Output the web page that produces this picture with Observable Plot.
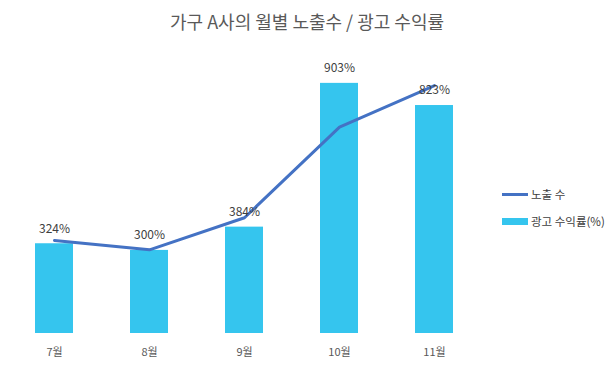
<!DOCTYPE html>
<html>
<head>
<meta charset="utf-8">
<script src="https://cdn.jsdelivr.net/npm/d3@7"></script>
<script src="https://cdn.jsdelivr.net/npm/@observablehq/plot@0.6"></script>
<style>
  html, body { margin: 0; padding: 0; background: #fff; }
  #wrap { position: relative; width: 614px; height: 369px; font-family: "Noto Sans CJK KR", "Noto Sans", sans-serif; }
  #title { position: absolute; left: 0; width: 614px; top: 8px; text-align: center; font-size: 18px; color: #595959; line-height: 26px; }
  #chart { position: absolute; left: 0; top: 0; }
  .leg { position: absolute; left: 502px; font-size: 11.5px; color: #404040; display: flex; align-items: center; white-space: nowrap; }
  .leg .ln { width: 26px; height: 3px; background: #4472c4; margin-right: 3px; }
  .leg .bx { width: 26px; height: 7px; background: #35c5ee; margin-right: 3px; }
</style>
</head>
<body>
<div id="wrap">
  <div id="chart"></div>
  <div id="title">가구 A사의 월별 노출수 / 광고 수익률</div>
  <div class="leg" style="top:186px"><div class="ln"></div>노출 수</div>
  <div class="leg" style="top:213px"><div class="bx"></div>광고 수익률(%)</div>
</div>
<script>
const months = ["7월", "8월", "9월", "10월", "11월"];
const roas = [324, 300, 384, 903, 823];          // 광고 수익률 (%)
const impressions = [3360, 3020, 4180, 7450, 8950]; // 노출 수 (estimated, own scale)

const data = months.map((m, i) => ({ month: m, roas: roas[i], imp: impressions[i] }));
// secondary axis for impressions mapped onto the % axis
const impToY = d3.scaleLinear().domain([0, 10000]).range([0, 1000]);

const chart = Plot.plot({
  width: 614,
  height: 369,
  marginLeft: 6,
  marginRight: 132,
  marginTop: 56,
  marginBottom: 36,
  style: { fontFamily: '"Noto Sans CJK KR", "Noto Sans", sans-serif', background: "transparent", overflow: "visible" },
  x: { domain: months, paddingInner: 0.6, paddingOuter: 0.3, label: null },
  y: { domain: [0, 1000], axis: null },
  marks: [
    Plot.barY(data, { x: "month", y: "roas", fill: "#35c5ee" }),
    Plot.line(data, { x: "month", y: d => impToY(d.imp), stroke: "#4472c4", strokeWidth: 3, curve: "linear" }),
    Plot.text(data, { x: "month", y: "roas", text: d => d.roas + "%", dy: -15, fontSize: 12, fill: "#404040" }),
    Plot.axisX({ tickSize: 0, tickPadding: 15, fontSize: 11, color: "#595959", label: null })
  ]
});
document.getElementById("chart").appendChild(chart);
</script>
</body>
</html>
